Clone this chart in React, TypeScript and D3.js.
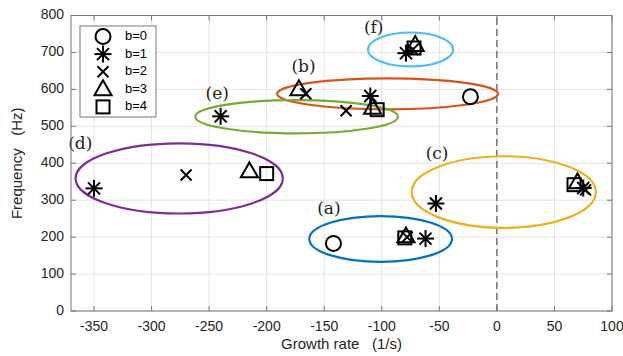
import React, { useEffect, useRef } from "react";
import * as d3 from "d3";

// marker points: growth rate (1/s), frequency (Hz), mode index b
const pointX = [-23, -142, -110, -240, -350, -62, -53, 75, -79, -131, -166, -270, -78, 77, -73, -172, -108, -215, -79, 70, -71, -104, -200, -80, 67, -72];
const pointY = [580, 183, 582, 527, 332, 196, 291, 333, 698, 542, 588, 368, 200, 328, 708, 600, 550, 378, 202, 348, 720, 545, 372, 198, 342, 712];
const pointB = [0, 0, 1, 1, 1, 1, 1, 1, 1, 2, 2, 2, 2, 2, 2, 3, 3, 3, 3, 3, 3, 4, 4, 4, 4, 4];

// clusters drawn as ellipses in data units
const clusterNames = ["(a)", "(b)", "(c)", "(d)", "(e)", "(f)"];
const clusterCx = [-101, -95, 6, -276, -174, -75];
const clusterCy = [195, 588, 322, 359, 526, 708];
const clusterRx = [62, 96, 80, 90, 88, 37];
const clusterRy = [62, 42, 97, 95, 45, 46];
const clusterColors = ["#0072BD", "#D95319", "#EDB120", "#7E2F8E", "#77AC30", "#4DBEEE"];
const labelX = [-146, -168, -52, -362, -243, -107];
const labelY = [276, 658, 423, 451, 585, 764];

const xTicks = [-350, -300, -250, -200, -150, -100, -50, 0, 50, 100];
const yTicks = [0, 100, 200, 300, 400, 500, 600, 700, 800];
const legendLabels = ["b=0", "b=1", "b=2", "b=3", "b=4"];

const W = 623;
const H = 356;
const margin = { top: 15.5, right: 11, bottom: 45, left: 71 };
const font = "'Liberation Sans', Arial, sans-serif";

function drawMarker(g: any, b: number, x: number, y: number) {
  const s = 2;
  if (b === 0) {
    g.append("circle").attr("cx", x).attr("cy", y).attr("r", 7.5)
      .attr("fill", "none").attr("stroke", "#000").attr("stroke-width", s);
  } else if (b === 1) {
    const r = 8.5;
    for (let k = 0; k < 4; k++) {
      const a = (k * Math.PI) / 4;
      g.append("line")
        .attr("x1", x - r * Math.cos(a)).attr("y1", y - r * Math.sin(a))
        .attr("x2", x + r * Math.cos(a)).attr("y2", y + r * Math.sin(a))
        .attr("stroke", "#000").attr("stroke-width", s);
    }
  } else if (b === 2) {
    const r = 5.5;
    g.append("path")
      .attr("d", `M${x - r},${y - r}L${x + r},${y + r}M${x - r},${y + r}L${x + r},${y - r}`)
      .attr("stroke", "#000").attr("stroke-width", s);
  } else if (b === 3) {
    const r = 9;
    g.append("path")
      .attr("d", `M${x},${y - r}L${x + r * 0.95},${y + r * 0.65}L${x - r * 0.95},${y + r * 0.65}Z`)
      .attr("fill", "none").attr("stroke", "#000").attr("stroke-width", s).attr("stroke-linejoin", "miter");
  } else {
    const r = 6.5;
    g.append("rect").attr("x", x - r).attr("y", y - r).attr("width", 2 * r).attr("height", 2 * r)
      .attr("fill", "none").attr("stroke", "#000").attr("stroke-width", s);
  }
}

export default function App() {
  const svgRef = useRef<SVGSVGElement>(null);

  useEffect(() => {
    const svg = d3.select(svgRef.current);
    svg.selectAll("*").remove();

    const x = d3.scaleLinear().domain([-370, 100]).range([margin.left, W - margin.right]);
    const y = d3.scaleLinear().domain([0, 800]).range([H - margin.bottom, margin.top]);

    svg.append("rect").attr("width", W).attr("height", H).attr("fill", "#fff");

    const defs = svg.append("defs");
    defs.append("clipPath").attr("id", "plot-clip").append("rect")
      .attr("x", margin.left).attr("y", margin.top)
      .attr("width", W - margin.left - margin.right)
      .attr("height", H - margin.top - margin.bottom);

    // grid
    const grid = svg.append("g").attr("stroke", "#e3e3e3").attr("stroke-width", 1);
    xTicks.forEach((t) => {
      grid.append("line").attr("x1", x(t)).attr("x2", x(t)).attr("y1", y(0)).attr("y2", y(800));
    });
    yTicks.forEach((t) => {
      grid.append("line").attr("x1", x(-370)).attr("x2", x(100)).attr("y1", y(t)).attr("y2", y(t));
    });

    // zero line
    svg.append("line")
      .attr("x1", x(0)).attr("x2", x(0)).attr("y1", y(0)).attr("y2", y(800))
      .attr("stroke", "#555").attr("stroke-width", 1.2).attr("stroke-dasharray", "7,4");

    // ellipses
    const ell = svg.append("g").attr("clip-path", "url(#plot-clip)");
    clusterNames.forEach((name, i) => {
      const cx = x(clusterCx[i]);
      const cy = y(clusterCy[i]);
      ell.append("ellipse")
        .attr("cx", cx).attr("cy", cy)
        .attr("rx", x(clusterCx[i] + clusterRx[i]) - cx)
        .attr("ry", cy - y(clusterCy[i] + clusterRy[i]))
        .attr("fill", "none").attr("stroke", clusterColors[i]).attr("stroke-width", 2.2);
      svg.append("text")
        .attr("x", x(labelX[i])).attr("y", y(labelY[i]))
        .attr("text-anchor", "middle").attr("dominant-baseline", "middle")
        .attr("font-family", "'DejaVu Serif', 'Liberation Serif', serif")
        .attr("font-size", 17).attr("fill", "#222").text(name);
    });

    // markers
    const mk = svg.append("g");
    pointX.forEach((px, i) => drawMarker(mk, pointB[i], x(px), y(pointY[i])));

    // axes box + ticks
    const ax = svg.append("g").attr("stroke", "#777").attr("stroke-width", 1).attr("fill", "none");
    ax.append("rect").attr("x", x(-370)).attr("y", y(800))
      .attr("width", x(100) - x(-370)).attr("height", y(0) - y(800));
    const tl = 5;
    xTicks.forEach((t) => {
      ax.append("line").attr("x1", x(t)).attr("x2", x(t)).attr("y1", y(0)).attr("y2", y(0) - tl);
      ax.append("line").attr("x1", x(t)).attr("x2", x(t)).attr("y1", y(800)).attr("y2", y(800) + tl);
    });
    yTicks.forEach((t) => {
      ax.append("line").attr("x1", x(-370)).attr("x2", x(-370) + tl).attr("y1", y(t)).attr("y2", y(t));
      ax.append("line").attr("x1", x(100)).attr("x2", x(100) - tl).attr("y1", y(t)).attr("y2", y(t));
    });

    const txt = svg.append("g").attr("font-family", font).attr("fill", "#262626");
    xTicks.forEach((t) => {
      txt.append("text").attr("x", x(t)).attr("y", y(0) + 20)
        .attr("text-anchor", "middle").attr("font-size", 14).text(t);
    });
    yTicks.forEach((t) => {
      txt.append("text").attr("x", x(-370) - 7).attr("y", y(t))
        .attr("text-anchor", "end").attr("dominant-baseline", "middle").attr("font-size", 14).text(t);
    });
    txt.append("text").attr("x", (x(-370) + x(100)) / 2).attr("y", 349)
      .attr("text-anchor", "middle").attr("font-size", 15).attr("xml:space", "preserve")
      .text("Growth rate   (1/s)");
    txt.append("text")
      .attr("transform", `translate(22,${(y(0) + y(800)) / 2}) rotate(-90)`)
      .attr("text-anchor", "middle").attr("font-size", 15).attr("xml:space", "preserve")
      .text("Frequency   (Hz)");

    // legend
    const lg = svg.append("g");
    lg.append("rect").attr("x", 80).attr("y", 26).attr("width", 76).attr("height", 91)
      .attr("fill", "#fff").attr("stroke", "#777").attr("stroke-width", 1);
    legendLabels.forEach((lab, i) => {
      const ly = 36.5 + i * 17.6;
      drawMarker(lg, i, 103, ly);
      lg.append("text").attr("x", 125).attr("y", ly).attr("dominant-baseline", "middle")
        .attr("font-family", font).attr("font-size", 13).attr("fill", "#000").text(lab);
    });
  }, []);

  return (
    <svg
      ref={svgRef}
      width={W}
      height={H}
      style={{ position: "absolute", left: 0, top: 0, display: "block" }}
    />
  );
}
